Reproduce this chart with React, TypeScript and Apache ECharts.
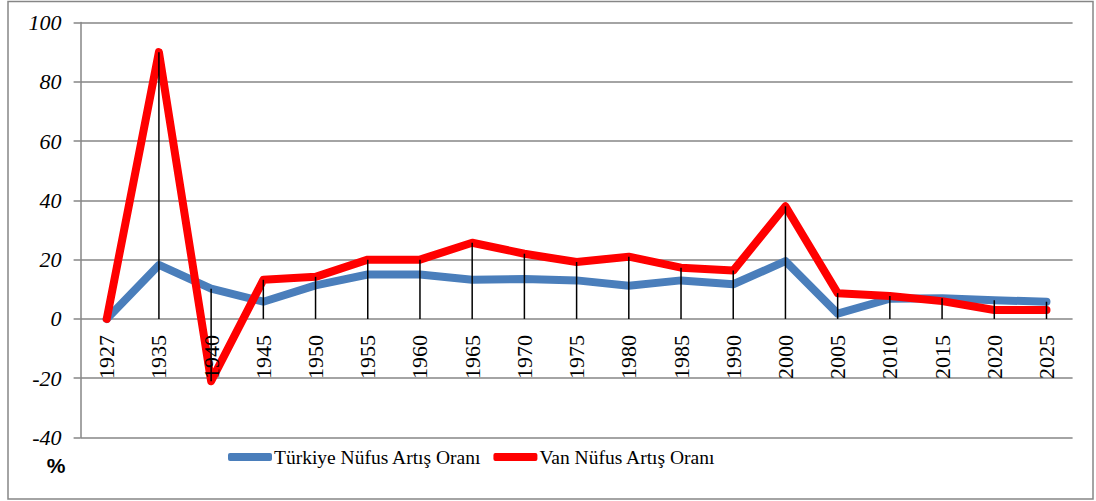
import React, { useEffect, useRef } from "react";
import * as echarts from "echarts";

const years = ["1927", "1935", "1940", "1945", "1950", "1955", "1960", "1965", "1970", "1975", "1980", "1985", "1990", "2000", "2005", "2010", "2015", "2020", "2025"];
const turkiye = [0, 18.2, 10.2, 5.8, 11.3, 15, 15, 13.2, 13.5, 13, 11.2, 13, 11.7, 19.5, 1.8, 6.8, 7, 6.3, 5.8];
const van = [0, 90, -21, 13.2, 14.2, 20, 20, 25.7, 22, 19.2, 21, 17.3, 16.3, 38, 8.7, 7.7, 6, 3, 3];
const yTicks = { min: -40, max: 100, interval: 20 };
const seriesNames = ["Türkiye Nüfus Artış Oranı", "Van Nüfus Artış Oranı"];

const serif = "'Liberation Serif', 'DejaVu Serif', serif";

export default function App() {
  const ref = useRef<HTMLDivElement>(null);
  useEffect(() => {
    if (!ref.current) return;
    const chart = echarts.init(ref.current, null, { renderer: "svg" });
    const hiLo = years.map((_, i) => {
      const vals = [0, turkiye[i], van[i]];
      return [i, Math.min(...vals), Math.max(...vals)];
    });
    const gridTop = 22.5;
    const gridBottom = 63.5;
    const plotH = 501 - gridTop - gridBottom;
    // distance from bottom of plot (min) to zero line, via the axis extent
    const zeroOffset = (plotH * (0 - yTicks.min)) / (yTicks.max - yTicks.min);
    chart.setOption({
      animation: false,
      backgroundColor: "#fff",
      grid: { left: 80.6, right: 23.4, top: gridTop, bottom: gridBottom },
      graphic: [
        {
          type: "rect",
          shape: { x: 8, y: 1.5, width: 1085, height: 497.5 },
          style: { fill: "none", stroke: "#868686", lineWidth: 1.5 },
          silent: true,
        },
        {
          type: "text",
          x: 56,
          y: 465,
          style: {
            text: "%",
            font: "bold 21px 'Liberation Sans', Arial, sans-serif",
            fill: "#000",
            textAlign: "center",
            textVerticalAlign: "middle",
          },
        },
      ],
      legend: {
        left: 228,
        top: 447,
        padding: 0,
        icon: "roundRect",
        itemWidth: 44,
        itemHeight: 8,
        itemGap: 12,
        textStyle: { fontFamily: serif, fontSize: 19.5, color: "#000", padding: [0, 0, 0, -3] },
        data: seriesNames,
      },
      xAxis: {
        type: "category",
        data: years,
        boundaryGap: true,
        position: "bottom",
        offset: -zeroOffset,
        z: 4,
        axisLine: { show: false, onZero: false },
        axisTick: { show: false },
        axisLabel: {
          rotate: 90,
          margin: 16,
          fontFamily: serif,
          fontSize: 22,
          color: "#000",
        },
        splitLine: { show: false },
      },
      yAxis: {
        type: "value",
        min: yTicks.min,
        max: yTicks.max,
        interval: yTicks.interval,
        axisLine: { show: true, lineStyle: { color: "#868686", width: 1.5 } },
        axisTick: { show: true, length: 7, lineStyle: { color: "#868686", width: 1.5 } },
        axisLabel: {
          margin: 19,
          fontFamily: serif,
          fontStyle: "italic",
          fontSize: 22,
          color: "#000",
        },
        splitLine: { show: true, lineStyle: { color: "#868686", width: 1.5 } },
      },
      series: [
        {
          name: seriesNames[0],
          type: "line",
          data: turkiye,
          symbol: "none",
          color: "#4A7EBB",
          lineStyle: { color: "#4A7EBB", width: 8, cap: "round", join: "round" },
          z: 2,
        },
        {
          name: seriesNames[1],
          type: "line",
          data: van,
          symbol: "none",
          color: "#FF0000",
          lineStyle: { color: "#FF0000", width: 8, cap: "round", join: "round" },
          z: 3,
        },
        {
          name: "hilo",
          type: "custom",
          data: hiLo,
          z: 5,
          silent: true,
          renderItem: (params: any, api: any) => {
            const p1 = api.coord([api.value(0), api.value(1)]);
            const p2 = api.coord([api.value(0), api.value(2)]);
            return {
              type: "line",
              shape: { x1: p1[0], y1: p1[1], x2: p2[0], y2: p2[1] },
              style: { stroke: "#000", lineWidth: 1.5 },
            };
          },
        },
      ],
    });
    return () => chart.dispose();
  }, []);
  return (
    <div
      ref={ref}
      style={{ position: "fixed", left: 0, top: 0, width: 1096, height: 501 }}
    />
  );
}
